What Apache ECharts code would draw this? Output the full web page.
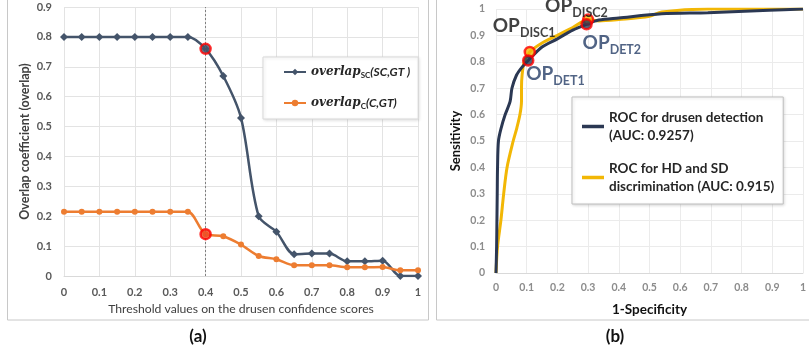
<!DOCTYPE html>
<html><head><meta charset="utf-8">
<script src="https://cdn.jsdelivr.net/npm/echarts@6/dist/echarts.min.js"></script>
<style>html,body{margin:0;padding:0;background:#fff}#c{width:809px;height:352px}</style>
</head><body><div id="c"></div>
<script>
// ---------- Panel (a) data ----------
const thresholds = [0,0.05,0.1,0.15,0.2,0.25,0.3,0.35,0.4,0.45,0.5,0.55,0.6,0.65,0.7,0.75,0.8,0.85,0.9,0.95,1];
const overlapSC  = [0.8,0.8,0.8,0.8,0.8,0.8,0.8,0.8,0.76,0.669,0.529,0.2,0.148,0.073,0.075,0.075,0.049,0.049,0.051,0,0];
const overlapC   = [0.215,0.215,0.215,0.215,0.215,0.215,0.215,0.215,0.14,0.133,0.105,0.067,0.056,0.036,0.036,0.036,0.029,0.029,0.03,0.019,0.019];
const selectedThreshold = 0.4;
const selectedSC = 0.76;
const selectedC = 0.14;
const xTicksA = [0,0.1,0.2,0.3,0.4,0.5,0.6,0.7,0.8,0.9,1];

// ---------- Panel (b) data ----------
const rocDetX = [0,0.002,0.003,0.004,0.005,0.008,0.017,0.03,0.046,0.052,0.067,0.085,0.105,0.15,0.2,0.25,0.295,0.335,0.4,0.54,0.69,0.89,1];
const rocDetY = [0,0.1,0.2,0.3,0.4,0.5,0.55,0.6,0.65,0.7,0.75,0.78,0.805,0.856,0.887,0.92,0.942,0.958,0.966,0.982,0.986,0.995,1];
const rocDiscX = [0,0.005,0.016,0.025,0.036,0.056,0.068,0.078,0.083,0.083,0.085,0.092,0.11,0.15,0.2,0.25,0.3,0.335,0.4,0.5,0.54,0.69,0.85,1];
const rocDiscY = [0,0.1,0.2,0.3,0.4,0.5,0.55,0.6,0.65,0.7,0.75,0.8,0.837,0.871,0.9,0.93,0.96,0.955,0.96,0.972,0.989,1,1,1];
const opNames = ['DISC1','DET1','DISC2','DET2'];
const opX = [0.11,0.105,0.3,0.295];
const opY = [0.837,0.805,0.96,0.942];

const FONT = 'Lato';
const cSC = '#44546A', cC = '#ED7D31', cDet = '#2B3853', cDisc = '#F2B705';

const chart = echarts.init(document.getElementById('c'), null, {renderer:'canvas'});

const opStyle = {
  DISC1: {color:'#111', fill:cDisc, off:[-37,-36]},
  DET1:  {color:'#263d66', fill:cDet, off:[-2,4]},
  DISC2: {color:'#111', fill:cDisc, off:[-43,-23]},
  DET2:  {color:'#263d66', fill:cDet, off:[-4,9]}
};

const opSeries = opNames.map((n,i)=>({
  type:'scatter', xAxisIndex:1, yAxisIndex:1, name:'OP_'+n,
  symbol:'circle', symbolSize:10, z:10,
  itemStyle:{color:opStyle[n].fill, borderColor:'#ff0000', borderWidth:2.5},
  data:[[opX[i], opY[i]]],
  label:{show:true, position:'inside', align:'left', verticalAlign:'top',
    offset:opStyle[n].off,
    formatter:'{o|OP}{s|'+n+'}',
    rich:{
      o:{fontFamily:FONT, fontSize:19, fontWeight:'bold', color:opStyle[n].color, lineHeight:20, verticalAlign:'top'},
      s:{fontFamily:FONT, fontSize:12.5, fontWeight:'bold', color:opStyle[n].color, lineHeight:14, padding:[10,0,0,0], verticalAlign:'top'}
    }},
  emphasis:{disabled:true}, silent:true
}));

const option = {
  animation:false,
  backgroundColor:'#fff',
  textStyle:{fontFamily:FONT},
  graphic:[
    {type:'rect', shape:{x:7.5,y:-2,width:421,height:322}, style:{fill:'none', stroke:'#c8c8c8', lineWidth:1}, z:-1},
    {type:'rect', shape:{x:436.5,y:-2,width:380,height:322}, style:{fill:'none', stroke:'#c8c8c8', lineWidth:1}, z:-1},
    {type:'text', x:198, y:337, style:{text:'(a)', font:'bold 17px Lato', fill:'#111', textAlign:'center', textVerticalAlign:'middle'}},
    {type:'text', x:615, y:337, style:{text:'(b)', font:'bold 17px Lato', fill:'#111', textAlign:'center', textVerticalAlign:'middle'}}
  ],
  grid:[
    {left:64, top:7, width:354, height:269},
    {left:496, top:9, width:310, height:264}
  ],
  legend:[
    {data:['overlapSC','overlapC'], orient:'vertical', left:263, top:57,
     padding:[8,8,9,20], itemGap:17, itemWidth:22, itemHeight:8, itemTextGap:9,
     backgroundColor:'#fff', borderColor:'#d9d9d9', borderWidth:1,
     shadowBlur:3, shadowColor:'rgba(0,0,0,0.12)', shadowOffsetX:1, shadowOffsetY:1,
     selectedMode:false,
     formatter:function(n){ return n==='overlapSC' ? '{o|overlap}{s|SC}{r|(SC,GT )}' : '{o|overlap}{s|C}{r|(C,GT)}'; },
     textStyle:{rich:{
       o:{fontFamily:'DejaVu Serif', fontStyle:'italic', fontWeight:'bold', fontSize:12, color:'#262626', lineHeight:16},
       s:{fontFamily:FONT, fontWeight:'bold', fontSize:8, color:'#262626', lineHeight:10, padding:[6,0,0,0]},
       r:{fontFamily:FONT, fontStyle:'italic', fontWeight:'bold', fontSize:12, color:'#262626', lineHeight:16}
     }}},
    {data:[{name:'detection', icon:'rect'},{name:'discrimination', icon:'rect'}], orient:'vertical', left:572, top:97,
     padding:[11,9,8,10], itemGap:14, itemWidth:22, itemHeight:3.5, itemTextGap:8,
     backgroundColor:'#fff', borderColor:'#bfbfbf', borderWidth:1,
     shadowBlur:3, shadowColor:'rgba(0,0,0,0.15)', shadowOffsetX:1, shadowOffsetY:1,
     selectedMode:false,
     formatter:function(n){ return n==='detection' ? 'ROC for drusen detection\n(AUC: 0.9257)' : 'ROC for HD and SD\ndiscrimination (AUC: 0.915)'; },
     textStyle:{fontFamily:FONT, fontWeight:'bold', fontSize:13.5, color:'#262626', lineHeight:18.5}}
  ],
  xAxis:[
    {gridIndex:0, type:'value', min:0, max:1, interval:0.1,
     name:'Threshold values on the drusen confidence scores', nameLocation:'middle', nameGap:26,
     nameTextStyle:{fontFamily:FONT, fontSize:12.2, color:'#404040'},
     axisLine:{show:true, lineStyle:{color:'#d9d9d9'}}, axisTick:{show:false},
     axisLabel:{margin:11, fontFamily:FONT, fontSize:11, fontWeight:'bold', color:'#595959',
       customValues:xTicksA},
     splitLine:{show:true, lineStyle:{color:'#e3e3e3'}}},
    {gridIndex:1, type:'value', min:0, max:1, interval:0.1,
     name:'1-Specificity', nameLocation:'middle', nameGap:30,
     nameTextStyle:{fontFamily:FONT, fontSize:13.5, fontWeight:'bold', color:'#111'},
     axisLine:{show:true, lineStyle:{color:'#d9d9d9'}}, axisTick:{show:false},
     axisLabel:{margin:9, fontFamily:FONT, fontSize:10.5, fontWeight:'bold', color:'#8c8c8c'},
     splitLine:{show:true, lineStyle:{color:'#ebebeb'}}}
  ],
  yAxis:[
    {gridIndex:0, type:'value', min:0, max:0.9, interval:0.1,
     name:'Overlap coefficient (overlap)', nameLocation:'middle', nameGap:33,
     nameTextStyle:{fontFamily:FONT, fontSize:12.5, fontWeight:'bold', color:'#404040'},
     axisLine:{show:false}, axisTick:{show:false},
     axisLabel:{margin:12, fontFamily:FONT, fontSize:11, fontWeight:'bold', color:'#595959'},
     splitLine:{show:true, lineStyle:{color:'#e3e3e3'}}},
    {gridIndex:1, type:'value', min:0, max:1, interval:0.1,
     name:'Sensitivity', nameLocation:'middle', nameGap:34,
     nameTextStyle:{fontFamily:FONT, fontSize:13, fontWeight:'bold', color:'#111'},
     axisLine:{show:false}, axisTick:{show:false},
     axisLabel:{margin:11, fontFamily:FONT, fontSize:10.5, fontWeight:'bold', color:'#8c8c8c'},
     splitLine:{show:true, lineStyle:{color:'#ebebeb'}}}
  ],
  series:[
    {type:'line', name:'overlapSC', xAxisIndex:0, yAxisIndex:0, smooth:0.3,
     symbol:'diamond', symbolSize:8, showSymbol:true,
     lineStyle:{color:cSC, width:2.5}, itemStyle:{color:cSC},
     data:thresholds.map((t,i)=>[t, overlapSC[i]]),
     markLine:{silent:true, symbol:'none', label:{show:false},
       lineStyle:{color:'#808080', type:[2,2], width:1},
       data:[{xAxis:selectedThreshold}]},
     emphasis:{disabled:true}},
    {type:'line', name:'overlapC', xAxisIndex:0, yAxisIndex:0, smooth:0.3,
     symbol:'circle', symbolSize:6, showSymbol:true,
     lineStyle:{color:cC, width:2.5}, itemStyle:{color:cC},
     data:thresholds.map((t,i)=>[t, overlapC[i]]),
     emphasis:{disabled:true}},
    {type:'scatter', name:'selSC', xAxisIndex:0, yAxisIndex:0, symbol:'circle', symbolSize:10, z:10,
     itemStyle:{color:cSC, borderColor:'#ff0000', borderWidth:2.5},
     data:[[selectedThreshold, selectedSC]], silent:true},
    {type:'scatter', name:'selC', xAxisIndex:0, yAxisIndex:0, symbol:'circle', symbolSize:10, z:10,
     itemStyle:{color:'#f04a24', borderColor:'#ff0000', borderWidth:2.5},
     data:[[selectedThreshold, selectedC]], silent:true},
    {type:'line', name:'discrimination', xAxisIndex:1, yAxisIndex:1, smooth:0.3, symbol:'none',
     lineStyle:{color:cDisc, width:3}, itemStyle:{color:cDisc},
     data:rocDiscX.map((x,i)=>[x, rocDiscY[i]]), emphasis:{disabled:true}},
    {type:'line', name:'detection', xAxisIndex:1, yAxisIndex:1, smooth:0.3, symbol:'none',
     lineStyle:{color:cDet, width:3}, itemStyle:{color:cDet},
     data:rocDetX.map((x,i)=>[x, rocDetY[i]]), emphasis:{disabled:true}}
  ].concat(opSeries)
};
chart.setOption(option);
</script></body></html>
